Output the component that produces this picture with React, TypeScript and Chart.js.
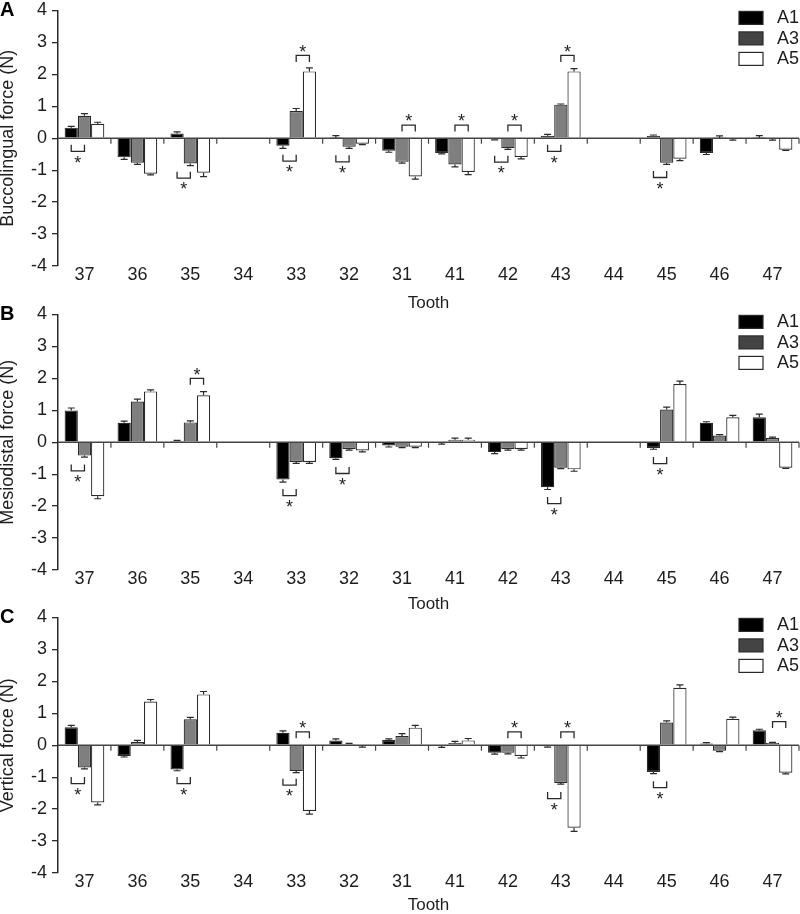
import React, { useEffect, useRef } from 'react';
import { Chart, registerables } from 'chart.js';
Chart.register(...registerables);

// ---------- data ----------
const teeth = ['37', '36', '35', '34', '33', '32', '31', '41', '42', '43', '44', '45', '46', '47'];
const seriesLabels = ['A1', 'A3', 'A5'];
const yTicksMin = -4;
const yTicksMax = 4;

// Panel A: buccolingual force (N)
const bucA1 = [0.33, -0.60, 0.15, null, -0.24, 0.01, -0.39, -0.46, -0.03, 0.08, null, 0.08, -0.46, 0.01];
const bucA3 = [0.70, -0.77, -0.79, null, 0.85, -0.27, -0.74, -0.82, -0.31, 1.05, null, -0.77, 0.01, -0.01];
const bucA5 = [0.45, -1.11, -1.08, null, 2.09, -0.17, -1.20, -1.06, -0.59, 2.09, null, -0.64, -0.01, -0.36];
const bucErr1 = [0.04, 0.06, 0.05, null, 0.08, 0.07, 0.05, 0.03, 0.02, 0.04, null, 0.02, 0.05, 0.07];
const bucErr3 = [0.07, 0.05, 0.07, null, 0.08, 0.05, 0.04, 0.08, 0.04, 0.02, null, 0.05, 0.06, 0.05];
const bucErr5 = [0.05, 0.04, 0.12, null, 0.11, 0.03, 0.08, 0.08, 0.06, 0.09, null, 0.06, 0.05, 0.02];

// Panel B: mesiodistal force (N)
const mesA1 = [0.99, 0.61, 0.04, null, -1.17, -0.50, -0.10, -0.02, -0.31, -1.41, null, -0.18, 0.61, 0.78];
const mesA3 = [-0.42, 1.27, 0.62, null, -0.62, -0.21, -0.14, 0.08, -0.21, -0.80, null, 1.02, 0.21, 0.13];
const mesA5 = [-1.69, 1.59, 1.47, null, -0.62, -0.26, -0.14, 0.08, -0.21, -0.85, null, 1.82, 0.78, -0.80];
const mesErr1 = [0.08, 0.05, 0.02, null, 0.08, 0.04, 0.05, 0.04, 0.05, 0.07, null, 0.04, 0.03, 0.10];
const mesErr3 = [0.05, 0.08, 0.05, null, 0.04, 0.04, 0.03, 0.05, 0.04, 0.03, null, 0.08, 0.03, 0.03];
const mesErr5 = [0.08, 0.05, 0.11, null, 0.04, 0.04, 0.03, 0.05, 0.04, 0.06, null, 0.09, 0.06, 0.02];

// Panel C: vertical force (N)
const verA1 = [0.56, -0.34, -0.76, null, 0.39, 0.15, 0.16, -0.02, -0.24, -0.03, null, -0.84, 0.05, 0.47];
const verA3 = [-0.70, 0.10, 0.81, null, -0.81, 0.04, 0.29, 0.07, -0.24, -1.18, null, 0.71, -0.17, 0.07];
const verA5 = [-1.79, 1.37, 1.59, null, -2.06, -0.02, 0.55, 0.15, -0.34, -2.58, null, 1.80, 0.83, -0.86];
const verErr1 = [0.06, 0.03, 0.04, null, 0.06, 0.05, 0.04, 0.05, 0.04, 0.03, null, 0.05, 0.03, 0.03];
const verErr3 = [0.04, 0.05, 0.06, null, 0.05, 0.02, 0.07, 0.05, 0.03, 0.04, null, 0.05, 0.03, 0.02];
const verErr5 = [0.08, 0.06, 0.09, null, 0.10, 0.04, 0.07, 0.06, 0.06, 0.12, null, 0.09, 0.05, 0.04];

// Significance brackets: tooth, pair of series (index), side, level (N)
type Sig = { tooth: string; from: number; to: number; side: 'above' | 'below'; level: number };
const bucSig: Sig[] = [
  { tooth: '37', from: 0, to: 1, side: 'below', level: -0.41 },
  { tooth: '35', from: 0, to: 1, side: 'below', level: -1.25 },
  { tooth: '33', from: 0, to: 1, side: 'below', level: -0.72 },
  { tooth: '33', from: 1, to: 2, side: 'above', level: 2.59 },
  { tooth: '32', from: 0, to: 1, side: 'below', level: -0.74 },
  { tooth: '31', from: 1, to: 2, side: 'above', level: 0.41 },
  { tooth: '41', from: 1, to: 2, side: 'above', level: 0.41 },
  { tooth: '42', from: 0, to: 1, side: 'below', level: -0.75 },
  { tooth: '42', from: 1, to: 2, side: 'above', level: 0.41 },
  { tooth: '43', from: 0, to: 1, side: 'below', level: -0.41 },
  { tooth: '43', from: 1, to: 2, side: 'above', level: 2.59 },
  { tooth: '45', from: 0, to: 1, side: 'below', level: -1.23 },
];
const mesSig: Sig[] = [
  { tooth: '37', from: 0, to: 1, side: 'below', level: -0.9 },
  { tooth: '35', from: 1, to: 2, side: 'above', level: 2.0 },
  { tooth: '33', from: 0, to: 1, side: 'below', level: -1.67 },
  { tooth: '32', from: 0, to: 1, side: 'below', level: -0.98 },
  { tooth: '43', from: 0, to: 1, side: 'below', level: -1.92 },
  { tooth: '45', from: 0, to: 1, side: 'below', level: -0.67 },
];
const verSig: Sig[] = [
  { tooth: '37', from: 0, to: 1, side: 'below', level: -1.2 },
  { tooth: '35', from: 0, to: 1, side: 'below', level: -1.2 },
  { tooth: '33', from: 0, to: 1, side: 'below', level: -1.25 },
  { tooth: '33', from: 1, to: 2, side: 'above', level: 0.42 },
  { tooth: '42', from: 1, to: 2, side: 'above', level: 0.42 },
  { tooth: '43', from: 0, to: 1, side: 'below', level: -1.67 },
  { tooth: '43', from: 1, to: 2, side: 'above', level: 0.42 },
  { tooth: '45', from: 0, to: 1, side: 'below', level: -1.33 },
  { tooth: '47', from: 1, to: 2, side: 'above', level: 0.74 },
];

// ---------- styles ----------
const FONT = "'Liberation Sans', Arial, Helvetica, sans-serif";
const TEXT = '#1e1e1e';
const LINE = '#2a2a2a';
const barColors = ['#000000', '#7f7f7f', '#ffffff'];
const legendColors = ['#000000', '#444444', '#ffffff'];

type PanelProps = {
  top: number;
  height: number;
  letter: string;
  yTitle: string;
  values: (number | null)[][];
  errors: (number | null)[][];
  sig: Sig[];
  titlePad: number;
};

function makePlugin(letter: string, sig: Sig[]) {
  return {
    id: 'panelDecor' + letter,
    afterDatasetsDraw(chart: any) {
      const ctx = chart.ctx;
      const ys = chart.scales.y;
      const xs = chart.scales.x;
      const ca = chart.chartArea;
      ctx.save();
      // error bars
      chart.data.datasets.forEach((ds: any, i: number) => {
        const meta = chart.getDatasetMeta(i);
        meta.data.forEach((bar: any, j: number) => {
          const v = ds.data[j];
          const e = ds.errors ? ds.errors[j] : null;
          if (v == null || e == null) return;
          const sign = v >= 0 ? 1 : -1;
          const y0 = ys.getPixelForValue(v);
          const y1 = ys.getPixelForValue(v + sign * e);
          ctx.strokeStyle = LINE;
          ctx.lineWidth = 1.2;
          ctx.beginPath();
          ctx.moveTo(bar.x, y0);
          ctx.lineTo(bar.x, y1);
          ctx.moveTo(bar.x - 3.5, y1);
          ctx.lineTo(bar.x + 3.5, y1);
          ctx.stroke();
        });
      });
      // zero line with ticks at category boundaries
      const yz = ys.getPixelForValue(0);
      ctx.strokeStyle = '#444';
      ctx.lineWidth = 1.5;
      ctx.beginPath();
      ctx.moveTo(ca.left, yz);
      ctx.lineTo(ca.right, yz);
      ctx.stroke();
      ctx.lineWidth = 1.2;
      ctx.beginPath();
      for (let k = 1; k <= teeth.length; k++) {
        const xb = xs.getPixelForValue(k - 0.5);
        ctx.moveTo(xb, yz);
        ctx.lineTo(xb, yz + 5.5);
      }
      ctx.stroke();
      ctx.restore();
    },
    afterDraw(chart: any) {
      const ctx = chart.ctx;
      const ys = chart.scales.y;
      const ca = chart.chartArea;
      ctx.save();
      // significance brackets
      sig.forEach((s) => {
        const j = teeth.indexOf(s.tooth);
        const b1 = chart.getDatasetMeta(s.from).data[j];
        const b2 = chart.getDatasetMeta(s.to).data[j];
        if (!b1 || !b2) return;
        const yl = ys.getPixelForValue(s.level);
        const dir = s.side === 'below' ? -1 : 1;
        const tick = 6.5;
        ctx.strokeStyle = LINE;
        ctx.lineWidth = 1.3;
        ctx.beginPath();
        ctx.moveTo(b1.x, yl + dir * tick);
        ctx.lineTo(b1.x, yl);
        ctx.lineTo(b2.x, yl);
        ctx.lineTo(b2.x, yl + dir * tick);
        ctx.stroke();
        const fs = 18;
        ctx.font = `${fs}px ${FONT}`;
        ctx.fillStyle = TEXT;
        ctx.textAlign = 'center';
        ctx.textBaseline = 'alphabetic';
        const cy = s.side === 'below' ? yl + 7 : yl - 8;
        ctx.fillText('*', (b1.x + b2.x) / 2, cy + 0.57 * fs);
      });
      // legend
      chart.data.datasets.forEach((ds: any, i: number) => {
        const bx = ca.right - 60;
        const by = ca.top + 1 + 20.5 * i;
        ctx.fillStyle = legendColors[i];
        ctx.fillRect(bx, by, 24, 13);
        ctx.strokeStyle = LINE;
        ctx.lineWidth = 1.2;
        ctx.strokeRect(bx, by, 24, 13);
        ctx.fillStyle = TEXT;
        ctx.font = `18px ${FONT}`;
        ctx.textAlign = 'left';
        ctx.textBaseline = 'middle';
        ctx.fillText(ds.label, ca.right - 22, by + 7);
      });
      // panel letter
      ctx.fillStyle = '#000';
      ctx.font = `bold 20px ${FONT}`;
      ctx.textAlign = 'left';
      ctx.textBaseline = 'middle';
      ctx.fillText(letter, 0, 10);
      ctx.restore();
    },
  };
}

function Panel(props: PanelProps) {
  const ref = useRef<HTMLCanvasElement | null>(null);
  useEffect(() => {
    const canvas = ref.current;
    if (!canvas) return;
    const { height, letter, yTitle, values, errors, sig, titlePad } = props;
    const chart = new Chart(canvas, {
      type: 'bar',
      data: {
        labels: teeth,
        datasets: values.map((v, i) => ({
          label: seriesLabels[i],
          data: v,
          errors: errors[i],
          backgroundColor: barColors[i],
          borderColor: LINE,
          borderWidth: 1.2,
          categoryPercentage: 0.75,
          barPercentage: 1,
        })) as any,
      },
      options: {
        responsive: false,
        animation: false,
        devicePixelRatio: 1,
        layout: { padding: { top: 7, right: 1, left: 0, bottom: 0 } },
        plugins: { legend: { display: false }, tooltip: { enabled: false } },
        scales: {
          x: {
            grid: { display: false, drawTicks: false },
            border: { display: false },
            ticks: {
              color: TEXT,
              font: { family: FONT, size: 18, lineHeight: 1 },
              padding: 0,
              maxRotation: 0,
              autoSkip: false,
            },
            title: {
              display: true,
              text: 'Tooth',
              color: TEXT,
              font: { family: FONT, size: 17, lineHeight: 1 },
              padding: { top: 0, bottom: titlePad },
            },
            afterFit: (s: any) => {
              s.height = height - 266;
            },
          },
          y: {
            min: yTicksMin,
            max: yTicksMax,
            ticks: {
              stepSize: 1,
              color: TEXT,
              font: { family: FONT, size: 18, lineHeight: 0.6 },
              padding: 5,
            },
            grid: {
              drawOnChartArea: false,
              drawTicks: true,
              tickLength: 6,
              color: LINE,
              lineWidth: 1.3,
            },
            border: { display: true, color: LINE, width: 1.5 },
            title: {
              display: true,
              text: yTitle,
              color: TEXT,
              font: { family: FONT, size: 18, lineHeight: 1 },
              padding: { top: -1, bottom: 0 },
            },
            afterFit: (s: any) => {
              s.width = 58;
            },
          },
        },
      } as any,
      plugins: [makePlugin(letter, sig)],
    });
    return () => chart.destroy();
  }, []);
  return (
    <div style={{ position: 'absolute', left: 0, top: props.top, width: 800, height: props.height }}>
      <canvas ref={ref} width={800} height={props.height} style={{ width: 800, height: props.height, display: 'block' }} />
    </div>
  );
}

export default function App() {
  return (
    <div style={{ position: 'absolute', left: 0, top: 0, width: 800, height: 914, overflow: 'hidden', background: '#fff' }}>
      <Panel top={0} height={312} letter="A" yTitle="Buccolingual force (N)"
        values={[bucA1, bucA3, bucA5]} errors={[bucErr1, bucErr3, bucErr5]} sig={bucSig} titlePad={0} />
      <Panel top={304} height={309} letter="B" yTitle="Mesiodistal force (N)"
        values={[mesA1, mesA3, mesA5]} errors={[mesErr1, mesErr3, mesErr5]} sig={mesSig} titlePad={0} />
      <Panel top={607} height={307} letter="C" yTitle="Vertical force (N)"
        values={[verA1, verA3, verA5]} errors={[verErr1, verErr3, verErr5]} sig={verSig} titlePad={0} />
    </div>
  );
}
